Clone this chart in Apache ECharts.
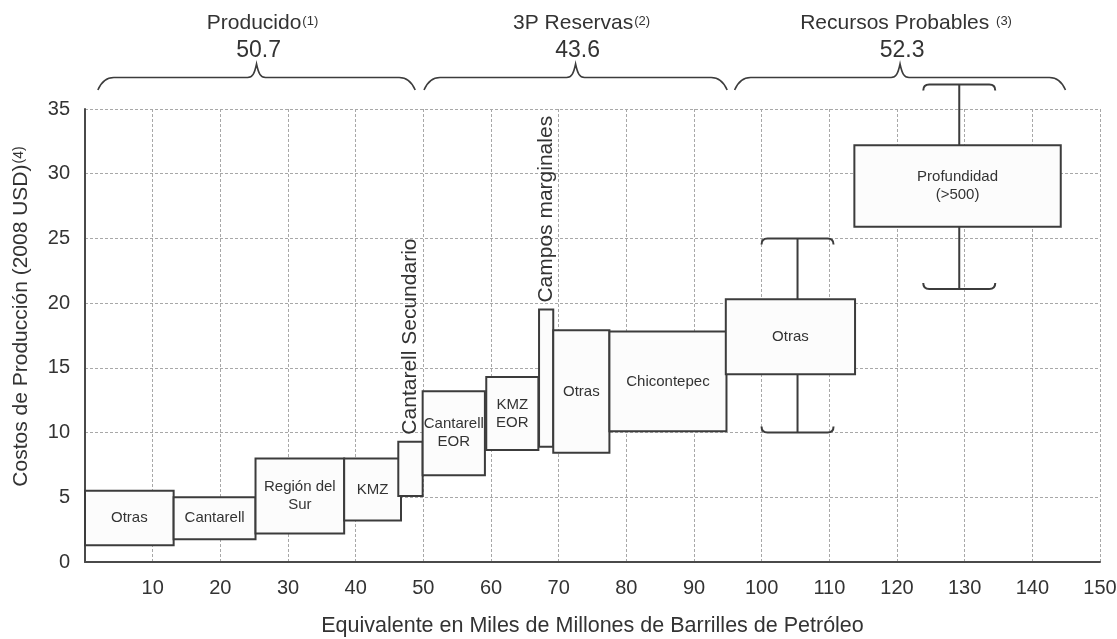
<!DOCTYPE html>
<html>
<head>
<meta charset="utf-8">
<script src="https://cdn.jsdelivr.net/npm/echarts@6/dist/echarts.min.js"></script>
<style>
  html, body { margin: 0; padding: 0; background: #ffffff; }
  #chart { width: 1117px; height: 639px; }
</style>
</head>
<body>
<div id="chart"></div>
<script>
// ---- Data ----
const boxNames = ['Otras', 'Cantarell', 'Región del\nSur', 'KMZ', 'Cantarell Secundario',
  'Cantarell\nEOR', 'KMZ\nEOR', 'Campos marginales', 'Otras', 'Chicontepec', 'Otras', 'Profundidad\n(>500)'];
const volStart = [0, 13.1, 25.2, 38.3, 46.3, 49.9, 59.3, 67.1, 69.2, 77.5, 94.7, 113.7];
const volEnd   = [13.1, 25.2, 38.3, 46.7, 49.9, 59.1, 67.0, 69.2, 77.5, 94.8, 113.8, 144.2];
const costLow  = [1.3, 1.75, 2.2, 3.2, 5.1, 6.7, 8.66, 8.9, 8.45, 10.1, 14.5, 25.9];
const costHigh = [5.5, 5.0, 8.0, 8.0, 9.3, 13.2, 14.3, 19.5, 17.9, 17.8, 20.3, 32.2];

const whiskerX    = [105.3, 129.2];
const whiskerLow  = [10.0, 21.1];
const whiskerHigh = [25.0, 36.9];

const groupNames  = ['Producido', '3P Reservas', 'Recursos Probables '];
const groupNotes  = ['(1)', '(2)', '(3)'];
const groupTotals = ['50.7', '43.6', '52.3'];
const braceStart  = [1.9, 50.1, 96.0];
const braceEnd    = [48.8, 94.9, 144.9];

const xMin = 0, xMax = 150, xStep = 10;
const yMin = 0, yMax = 35, yStep = 5;

const xTitle = 'Equivalente en Miles de Millones de Barrilles de Petróleo';
const yTitle = 'Costos de Producción (2008 USD)';
const yNote = '(4)';

// ---- Styles ----
const FONT = '"Liberation Sans", Arial, Helvetica, sans-serif';
const INK = '#333333';
const EDGE = '#3c3c3c';

const boxData = volStart.map((v, i) => [v, volEnd[i], costLow[i], costHigh[i]]);
const whiskerData = whiskerX.map((v, i) => [v, whiskerLow[i], whiskerHigh[i]]);
const braceData = braceStart.map((v, i) => [v, braceEnd[i], yMax]);

function renderBox(params, api) {
  const i = params.dataIndex;
  const p1 = api.coord([api.value(0), api.value(3)]);
  const p2 = api.coord([api.value(1), api.value(2)]);
  const x = p1[0], y = p1[1], w = p2[0] - p1[0], h = p2[1] - p1[1];
  const children = [{
    type: 'rect',
    shape: { x: x, y: y, width: w, height: h },
    style: { fill: '#fcfcfc', stroke: EDGE, lineWidth: 2 }
  }];
  if (w < 30) {
    children.push({
      type: 'text', x: x + w / 2, y: y - 7, rotation: Math.PI / 2,
      style: { text: boxNames[i], align: 'left', verticalAlign: 'middle',
               fontSize: 21, fontFamily: FONT, fill: INK }
    });
  } else {
    children.push({
      type: 'text', x: x + w / 2, y: y + h / 2,
      style: { text: boxNames[i], align: 'center', verticalAlign: 'middle',
               fontSize: 15, lineHeight: 18, fontFamily: FONT, fill: INK }
    });
  }
  return { type: 'group', children: children };
}

function renderWhisker(params, api) {
  const top = api.coord([api.value(0), api.value(2)]);
  const bot = api.coord([api.value(0), api.value(1)]);
  const xc = top[0], yt = top[1], yb = bot[1];
  const hw = 36, r = 6;
  const path =
    'M' + xc + ',' + yt + 'L' + xc + ',' + yb +
    'M' + (xc - hw) + ',' + (yt + r) + 'Q' + (xc - hw) + ',' + yt + ' ' + (xc - hw + r) + ',' + yt +
    'L' + (xc + hw - r) + ',' + yt + 'Q' + (xc + hw) + ',' + yt + ' ' + (xc + hw) + ',' + (yt + r) +
    'M' + (xc - hw) + ',' + (yb - r) + 'Q' + (xc - hw) + ',' + yb + ' ' + (xc - hw + r) + ',' + yb +
    'L' + (xc + hw - r) + ',' + yb + 'Q' + (xc + hw) + ',' + yb + ' ' + (xc + hw) + ',' + (yb - r);
  return {
    type: 'path',
    shape: { pathData: path },
    style: { fill: 'none', stroke: EDGE, lineWidth: 2 }
  };
}

function renderBrace(params, api) {
  const i = params.dataIndex;
  const a = api.coord([api.value(0), api.value(2)]);
  const b = api.coord([api.value(1), api.value(2)]);
  const x1 = a[0], x2 = b[0], base = a[1];
  const px = (x1 + x2) / 2;
  const yE = base - 19, yM = base - 31.5, yP = base - 45;
  const d =
    'M' + x1 + ',' + yE +
    'C' + (x1 + 3) + ',' + (yE - 7) + ' ' + (x1 + 7) + ',' + yM + ' ' + (x1 + 16) + ',' + yM +
    'L' + (px - 9) + ',' + yM +
    'C' + (px - 4) + ',' + yM + ' ' + (px - 2) + ',' + (yM - 4) + ' ' + px + ',' + yP +
    'C' + (px + 2) + ',' + (yM - 4) + ' ' + (px + 4) + ',' + yM + ' ' + (px + 9) + ',' + yM +
    'L' + (x2 - 16) + ',' + yM +
    'C' + (x2 - 7) + ',' + yM + ' ' + (x2 - 3) + ',' + (yE - 7) + ' ' + x2 + ',' + yE;
  return {
    type: 'group',
    children: [
      { type: 'path', shape: { pathData: d }, style: { fill: 'none', stroke: EDGE, lineWidth: 1.6 } },
      { type: 'text', x: px + 6, y: base - 86,
        style: { text: '{t|' + groupNames[i] + '}{s|' + groupNotes[i] + '}',
                 align: 'center', verticalAlign: 'middle',
                 rich: {
                   t: { fontSize: 21, fontFamily: FONT, fill: INK },
                   s: { fontSize: 13, fontFamily: FONT, fill: INK, verticalAlign: 'middle', padding: [0, 0, 4, 1] }
                 } } },
      { type: 'text', x: px + 2, y: base - 58,
        style: { text: groupTotals[i], align: 'center', verticalAlign: 'middle',
                 fontSize: 23, fontFamily: FONT, fill: INK } }
    ]
  };
}

const chart = echarts.init(document.getElementById('chart'), null, { renderer: 'canvas' });
chart.setOption({
  backgroundColor: '#ffffff',
  animation: false,
  grid: { left: 85, right: 17, top: 109, bottom: 77, containLabel: false, outerBoundsMode: 'none' },
  xAxis: {
    type: 'value', min: xMin, max: xMax, interval: xStep,
    axisLine: { show: true, lineStyle: { color: '#4a4a4a', width: 2 } },
    axisTick: { show: false },
    axisLabel: { formatter: v => (v === 0 ? '' : String(v)), fontSize: 20, color: INK, fontFamily: FONT, margin: 16 },
    splitLine: { show: true, lineStyle: { type: [3, 2], color: '#a8a8a8', width: 1 } },
    name: xTitle, nameLocation: 'middle', nameGap: 53,
    nameTextStyle: { fontSize: 21.5, color: INK, fontFamily: FONT }
  },
  yAxis: {
    type: 'value', min: yMin, max: yMax, interval: yStep,
    axisLine: { show: true, lineStyle: { color: '#4a4a4a', width: 2 } },
    axisTick: { show: false },
    axisLabel: { fontSize: 20, color: INK, fontFamily: FONT, margin: 15 },
    splitLine: { show: true, lineStyle: { type: [3, 2], color: '#a8a8a8', width: 1 } },
    name: '{a|' + yTitle + '}{s|' + yNote + '}',
    nameLocation: 'middle', nameRotate: 90, nameGap: 53,
    nameTextStyle: {
      padding: [0, 0, 0, 38],
      rich: {
        a: { fontSize: 21, color: INK, fontFamily: FONT },
        s: { fontSize: 14, color: INK, fontFamily: FONT, padding: [0, 0, 4, 1] }
      }
    }
  },
  series: [
    { type: 'custom', name: 'whiskers', renderItem: renderWhisker, data: whiskerData,
      encode: { x: 0, y: [1, 2] }, clip: false, z: 2 },
    { type: 'custom', name: 'boxes', renderItem: renderBox, data: boxData,
      encode: { x: [0, 1], y: [2, 3] }, clip: false, z: 3 },
    { type: 'custom', name: 'braces', renderItem: renderBrace, data: braceData,
      encode: { x: [0, 1], y: 2 }, clip: false, z: 4 }
  ]
});
</script>
</body>
</html>
